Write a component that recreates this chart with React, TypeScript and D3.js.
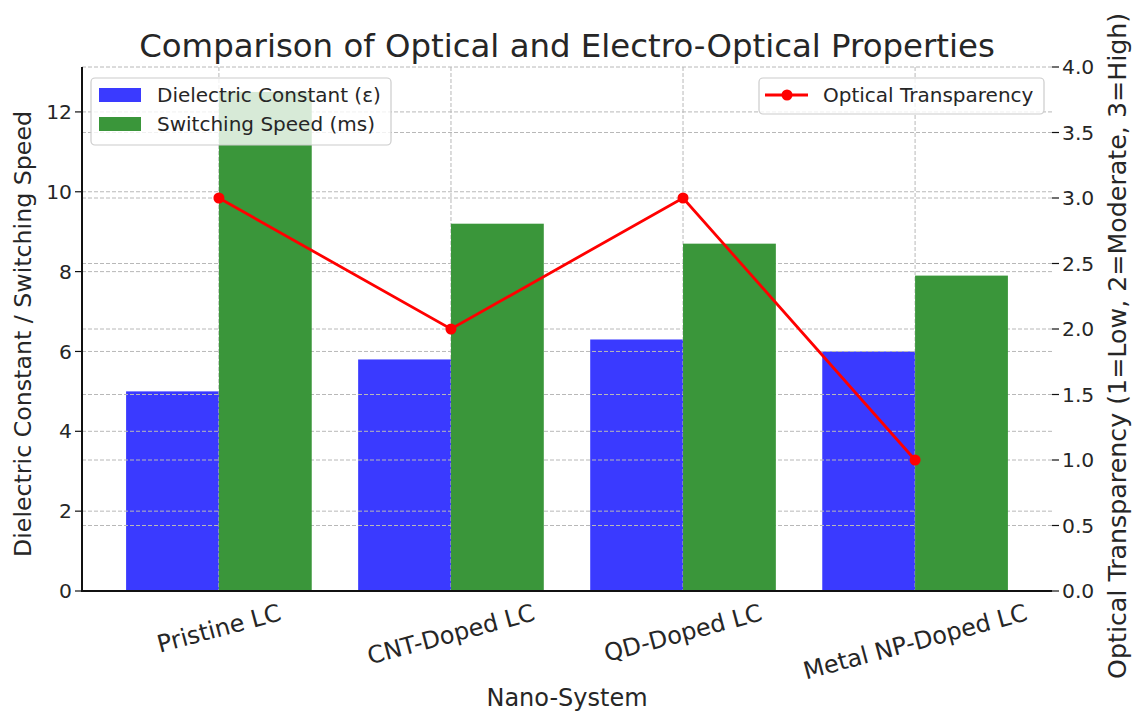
import React from "react";
import * as d3 from "d3";

const categories = ["Pristine LC", "CNT-Doped LC", "QD-Doped LC", "Metal NP-Doped LC"];
const dielectric = [5.0, 5.8, 6.3, 6.0];
const switching = [12.5, 9.2, 8.7, 7.9];
const transparency = [3, 2, 3, 1];
const leftTicks = [0, 2, 4, 6, 8, 10, 12];
const rightTicks = [0, 0.5, 1.0, 1.5, 2.0, 2.5, 3.0, 3.5, 4.0];

const W = 1132, H = 713;
const L = 82, R = 1052, T = 67, B = 591;
const FONT = "DejaVu Sans, sans-serif";
const TXT = "#262626";
const BLUE = "rgb(58,58,255)";
const GREEN = "rgb(58,150,58)";
const GRID = "#b8b8b8";

function measure(text: string, size: number) {
  if (typeof document === "undefined") return text.length * size * 0.6;
  const c = document.createElement("canvas").getContext("2d")!;
  c.font = `${size}px "DejaVu Sans"`;
  return c.measureText(text).width;
}

export default function App() {
  const x = d3.scaleLinear().domain([-0.59, 3.59]).range([L, R]);
  const yL = d3.scaleLinear().domain([0, 13.125]).range([B, T]);
  const yR = d3.scaleLinear().domain([0, 4]).range([B, T]);
  const bw = 0.4;
  const line = d3.line<number>().x((_, i) => x(i)).y((d) => yR(d));
  const tickFs = 20.3;
  const xTickFs = 24;
  const ang = (15 * Math.PI) / 180;

  return (
    <svg width={W} height={H} style={{ position: "absolute", left: 0, top: 0, background: "#fff" }} fontFamily={FONT}>
      {/* blue bars */}
      {dielectric.map((v, i) => (
        <rect key={"b" + i} x={x(i - bw)} y={yL(v)} width={x(i) - x(i - bw)} height={B - yL(v)} fill={BLUE} />
      ))}
      {/* grids */}
      {categories.map((_, i) => (
        <line key={"vg" + i} x1={x(i)} x2={x(i)} y1={T} y2={B} stroke={GRID} strokeWidth={1} strokeDasharray="4,2" />
      ))}
      {leftTicks.map((t) => (
        <line key={"lg" + t} x1={L} x2={R} y1={yL(t)} y2={yL(t)} stroke={GRID} strokeWidth={1} strokeDasharray="4,2" />
      ))}
      {rightTicks.map((t) => (
        <line key={"rg" + t} x1={L} x2={R} y1={yR(t)} y2={yR(t)} stroke={GRID} strokeWidth={1} strokeDasharray="4,2" />
      ))}
      {/* green bars */}
      {switching.map((v, i) => (
        <rect key={"g" + i} x={x(i)} y={yL(v)} width={x(i + bw) - x(i)} height={B - yL(v)} fill={GREEN} />
      ))}
      {/* spines */}
      <line x1={L} x2={L} y1={T} y2={B + 1} stroke="#111" strokeWidth={2} />
      <line x1={L - 1} x2={R} y1={B} y2={B} stroke="#111" strokeWidth={2} />
      {/* left ticks */}
      {leftTicks.map((t) => (
        <g key={"lt" + t}>
          <line x1={L - 7} x2={L} y1={yL(t)} y2={yL(t)} stroke="#111" strokeWidth={1.2} />
          <text x={L - 10} y={yL(t)} dy="0.35em" textAnchor="end" fontSize={tickFs} fill={TXT}>{t}</text>
        </g>
      ))}
      {/* right ticks */}
      {rightTicks.map((t) => (
        <g key={"rt" + t}>
          <line x1={R} x2={R + 7} y1={yR(t)} y2={yR(t)} stroke="#111" strokeWidth={1.2} />
          <text x={R + 10} y={yR(t)} dy="0.35em" textAnchor="start" fontSize={tickFs} fill={TXT}>{t.toFixed(1)}</text>
        </g>
      ))}
      {/* x tick labels rotated */}
      {categories.map((c, i) => {
        const w = measure(c, xTickFs);
        const h = xTickFs * 1.1;
        const bh = w * Math.sin(ang) + h * Math.cos(ang);
        const cy = B + 8 + bh / 2;
        return (
          <text key={"xt" + i} x={x(i)} y={cy} dy="0.35em" textAnchor="middle" fontSize={xTickFs} fill={TXT}
            transform={`rotate(-15, ${x(i)}, ${cy})`}>{c}</text>
        );
      })}
      {/* line */}
      <path d={line(transparency) || ""} fill="none" stroke="#ff0000" strokeWidth={2.8} />
      {transparency.map((v, i) => (
        <circle key={"m" + i} cx={x(i)} cy={yR(v)} r={5.5} fill="#ff0000" />
      ))}
      {/* axis labels */}
      <text x={(L + R) / 2} y={706} textAnchor="middle" fontSize={24} fill={TXT}>Nano-System</text>
      <text transform={`translate(31, 557) rotate(-90)`} textAnchor="start" fontSize={23.7} fill={TXT}>Dielectric Constant / Switching Speed</text>
      <text transform={`translate(1126, 679) rotate(-90)`} textAnchor="start" fontSize={25.3} fill={TXT}>Optical Transparency (1=Low, 2=Moderate, 3=High)</text>
      {/* title */}
      <text x={(L + R) / 2} y={57} textAnchor="middle" fontSize={32.4} fill={TXT}>Comparison of Optical and Electro-Optical Properties</text>
      {/* left legend */}
      <g>
        <rect x={91} y={78} width={300} height={67} rx={4} fill="#fff" fillOpacity={0.8} stroke="#cccccc" strokeWidth={1.2} />
        <rect x={99} y={88} width={42} height={14} fill={BLUE} />
        <text x={157} y={95} dy="0.35em" fontSize={20} fill={TXT}>Dielectric Constant (ε)</text>
        <rect x={99} y={117} width={42} height={14} fill={GREEN} />
        <text x={157} y={124} dy="0.35em" fontSize={20} fill={TXT}>Switching Speed (ms)</text>
      </g>
      {/* right legend */}
      <g>
        <rect x={759} y={78} width={285} height={36} rx={4} fill="#fff" fillOpacity={0.8} stroke="#cccccc" strokeWidth={1.2} />
        <line x1={765} x2={808} y1={95} y2={95} stroke="#ff0000" strokeWidth={2.8} />
        <circle cx={787} cy={95} r={5.5} fill="#ff0000" />
        <text x={823} y={95} dy="0.35em" fontSize={20} fill={TXT}>Optical Transparency</text>
      </g>
    </svg>
  );
}
